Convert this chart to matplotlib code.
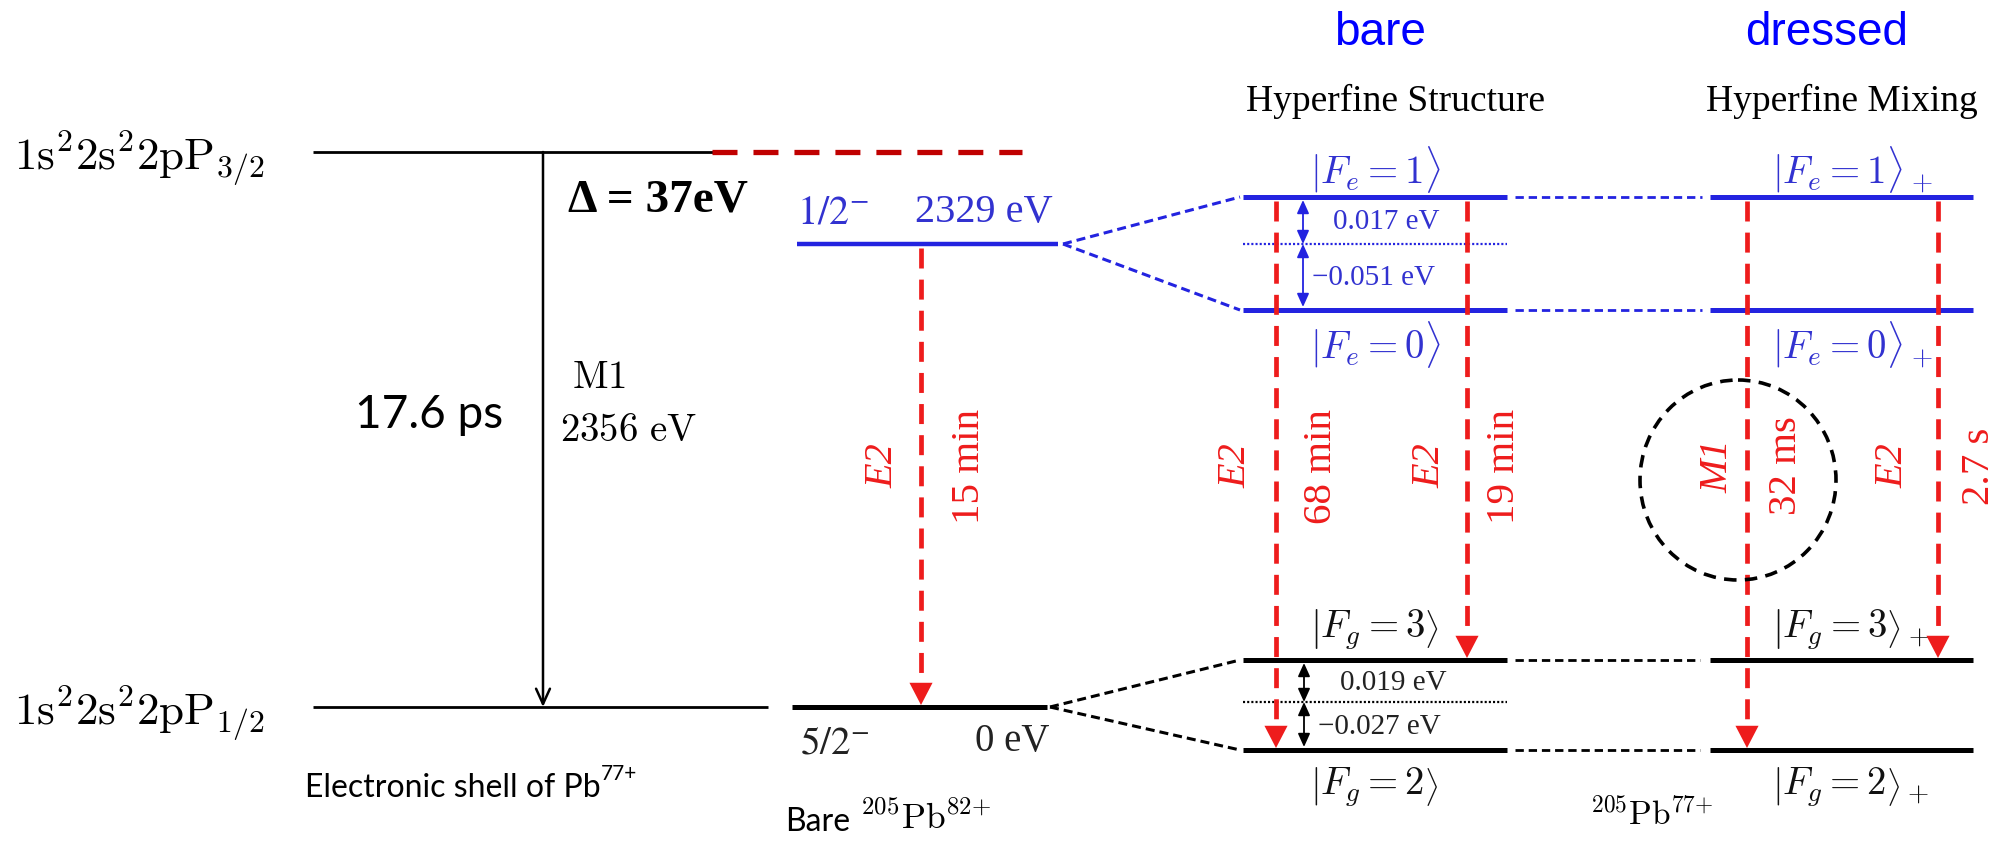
import numpy as np
import matplotlib.pyplot as plt
from matplotlib.patches import Ellipse

plt.rcParams['lines.scale_dashes'] = False

W, H = 1996, 841   # canvas in pixels, data units = pixels

# ---- electronic shell of Pb77+ ----
shell_y = [152, 707]                 # 2p3/2 , 2p1/2
shell_x0 = 313
shell_x1 = [720, 768]
shell_labels = [r'$\mathrm{1s^22s^22pP_{3/2}}$', r'$\mathrm{1s^22s^22pP_{1/2}}$']
shell_lifetime = '17.6 ps'
shell_trans = ['M1', '2356 eV']
delta_label = 'Δ = 37eV'

# ---- bare nucleus 205Pb82+ ----
nuc_y = [244, 707]                   # 1/2- isomer, 5/2- ground
nuc_x = [(797, 1058), (792, 1047)]
nuc_spin = [r'$1/2^{-}$', r'$5/2^{-}$']
nuc_energy = ['2329 eV', '0 eV']

# ---- hyperfine levels ----
hfs_e = [197, 310]                   # F_e = 1, F_e = 0
hfs_g = [660, 750]                   # F_g = 3, F_g = 2
hfs_e_mid, hfs_g_mid = 244, 702
bare_x = (1243, 1507)
mix_x = (1710, 1973)
bare_e_lab = [r'$|F_e = 1\rangle$', r'$|F_e = 0\rangle$']
bare_g_lab = [r'$\left|F_g = 3\right\rangle$', r'$\left|F_g = 2\right\rangle$']
mix_e_lab = [r'$|F_e = 1\rangle_+$', r'$|F_e = 0\rangle_+$']
mix_g_lab = [r'$\left|F_g = 3\right\rangle_+$', r'$\left|F_g = 2\right\rangle_+$']
split_e = ['0.017 eV', '\u22120.051 eV']
split_g = ['0.019 eV', '\u22120.027 eV']

# ---- decays ----
tr_x = [921, 1276, 1467, 1747, 1938]
tr_from = [244, 197, 197, 197, 197]
tr_to = [707, 750, 660, 750, 660]
tr_type = ['E2', 'E2', 'E2', 'M1', 'E2']
tr_time = ['15 min', '68 min', '19 min', '32 ms', '2.7 s']
type_dx = [-38, -40, -37, -29, -45]
time_dx = [49, 46, 38, 40, 42]

red = '#ee1c1c'
dred = '#c00000'
blue = '#2323e0'
tblue = '#3232d0'

fig = plt.figure(figsize=(W / 100, H / 100), dpi=100)
ax = fig.add_axes([0, 0, 1, 1])
ax.set_xlim(0, W)
ax.set_ylim(H, 0)
ax.axis('off')

def hline(y, x0, x1, **kw):
    ax.plot([x0, x1], [y, y], solid_capstyle='butt', dash_capstyle='butt', **kw)

def seg(p, q, **kw):
    ax.plot([p[0], q[0]], [p[1], q[1]], dash_capstyle='butt', **kw)

# electronic shell
for y, x1, lab in zip(shell_y, shell_x1, shell_labels):
    hline(y, shell_x0, x1, color='black', lw=2.0)
    ax.text(14, y + 6, lab, fontsize=32.5, math_fontfamily='cm', va='center', ha='left')
hline(shell_y[0], 712, 1022, color=dred, lw=3.8, dashes=(18, 11.5))
ax.annotate('', xy=(543, shell_y[1]), xytext=(543, shell_y[0]),
            arrowprops=dict(arrowstyle='->,head_length=1.1,head_width=0.5', mutation_scale=10,
                            color='black', lw=1.8, shrinkA=0, shrinkB=0))
ax.text(355, 415, shell_lifetime, fontsize=33, family='Lato', va='center', ha='left')
ax.text(572, 377, r'$\mathrm{' + shell_trans[0] + '}$', fontsize=28, math_fontfamily='cm', va='center', ha='left')
ax.text(560, 430, r'$\mathrm{2356\ eV}$', fontsize=28, math_fontfamily='cm', va='center', ha='left')
ax.text(568, 200, delta_label, fontsize=34, family='Liberation Serif', weight='bold', va='center', ha='left')
t_shell = ax.text(305, 788, 'Electronic shell of Pb', fontsize=23, family='Lato', va='center', ha='left')
ax.annotate('77+', xy=(1.0, 0.95), xycoords=t_shell, xytext=(0.5, 0), textcoords='offset points',
            fontsize=15, family='Lato', va='center', ha='left')

# bare nucleus
nuc_col = [blue, 'black']
nuc_lw = [3.2, 3.6]
for y, (x0, x1), c, lw in zip(nuc_y, nuc_x, nuc_col, nuc_lw):
    hline(y, x0, x1, color=c, lw=lw)
ax.text(797, 212, nuc_spin[0], fontsize=29, math_fontfamily='stix', color=tblue, va='center', ha='left')
ax.text(915, 212, nuc_energy[0], fontsize=29, family='Liberation Serif', color=tblue, va='center', ha='left')
ax.text(800, 742, nuc_spin[1], fontsize=28, math_fontfamily='stix', color='#222222', va='center', ha='left')
ax.text(975, 742, nuc_energy[1], fontsize=28, family='Liberation Serif', color='#222222', va='center', ha='left')
ax.text(785, 822, 'Bare', fontsize=23, family='Lato', va='center', ha='left')
ax.text(860, 818, r'$^{205}\mathrm{Pb}^{82{+}}$', fontsize=25.5, math_fontfamily='cm', va='center', ha='left')

# splitting fans
for ye in hfs_e:
    seg((1063, nuc_y[0]), (bare_x[0] - 3, ye), color=blue, lw=2.2, dashes=(6.5, 3.6))
for yg in hfs_g:
    seg((1050, nuc_y[1]), (bare_x[0] - 3, yg), color='black', lw=2.2, dashes=(6.5, 3.6))

# hyperfine levels, bare and dressed
for x0, x1 in [bare_x, mix_x]:
    for y in hfs_e:
        hline(y, x0, x1, color=blue, lw=3.6, zorder=2)
    for y in hfs_g:
        hline(y, x0, x1, color='black', lw=3.6, zorder=2)
for y in hfs_e:
    hline(y, bare_x[1] + 8, mix_x[0] - 8, color=blue, lw=2.0, dashes=(6, 3.5))
for y in hfs_g:
    hline(y, bare_x[1] + 8, mix_x[0] - 10, color='black', lw=2.0, dashes=(6, 3.5))
hline(hfs_e_mid, bare_x[0], bare_x[1], color=blue, lw=1.6, dashes=(1.5, 1.5))
hline(hfs_g_mid, bare_x[0], bare_x[1], color='black', lw=1.6, dashes=(1.5, 1.5))

# splitting arrows
def dbl(x, y0, y1, c):
    ax.annotate('', xy=(x, y1), xytext=(x, y0),
                arrowprops=dict(arrowstyle='<|-|>,head_length=1.0,head_width=0.45', mutation_scale=8,
                                color=c, lw=1.3, shrinkA=0, shrinkB=0))
dbl(1303, hfs_e[0] + 3, hfs_e_mid, blue)
dbl(1303, hfs_e_mid, hfs_e[1] - 3, blue)
dbl(1304, hfs_g[0] + 3, hfs_g_mid, 'black')
dbl(1304, hfs_g_mid, hfs_g[1] - 3, 'black')
ax.text(1333, 222, split_e[0], fontsize=21, family='Liberation Serif', color=tblue, va='center', ha='left')
ax.text(1312, 278, split_e[1], fontsize=21, family='Liberation Serif', color=tblue, va='center', ha='left')
ax.text(1340, 683, split_g[0], fontsize=21, family='Liberation Serif', color='#222222', va='center', ha='left')
ax.text(1318, 727, split_g[1], fontsize=21, family='Liberation Serif', color='#222222', va='center', ha='left')

# state labels
for lab, y in zip(bare_e_lab, [170, 345]):
    ax.text(1310, y, lab, fontsize=28, math_fontfamily='cm', color=tblue, va='center', ha='left')
for lab, y in zip(mix_e_lab, [170, 345]):
    ax.text(1772, y, lab, fontsize=28, math_fontfamily='cm', color=tblue, va='center', ha='left')
for lab, y in zip(bare_g_lab, [630, 787]):
    ax.text(1310, y, lab, fontsize=28, math_fontfamily='cm', color='#111111', va='center', ha='left')
for lab, y in zip(mix_g_lab, [630, 787]):
    ax.text(1772, y, lab, fontsize=28, math_fontfamily='cm', color='#111111', va='center', ha='left')
ax.text(1590, 815, r'$^{205}\mathrm{Pb}^{77{+}}$', fontsize=24, math_fontfamily='cm', va='center', ha='left')

# headers
ax.text(1396, 101, 'Hyperfine Structure', fontsize=27, family='Liberation Serif', va='center', ha='center')
ax.text(1842, 101, 'Hyperfine Mixing', fontsize=27, family='Liberation Serif', va='center', ha='center')
ax.text(1380, 45, 'bare', fontsize=33, family='Liberation Sans', color='#0000ff', va='baseline', ha='center')
ax.text(1827, 45, 'dressed', fontsize=33, family='Liberation Sans', color='#0000ff', va='baseline', ha='center')

# decay arrows
for x, y0, y1, kind, tau, dk, dt in zip(tr_x, tr_from, tr_to, tr_type, tr_time, type_dx, time_dx):
    ax.plot([x, x], [y0 + 4, y1 - 18], color=red, lw=3.4, dashes=(14.4, 8), zorder=3)
    ax.annotate('', xy=(x, y1 - 2), xytext=(x, y1 - 30),
                arrowprops=dict(arrowstyle='-|>,head_length=1.0,head_width=0.52', mutation_scale=16,
                                color=red, lw=0, shrinkA=0, shrinkB=0), zorder=3)
    ax.text(x + dk, 466, kind, rotation=90, fontsize=29, family='Liberation Serif', style='italic',
            color=red, va='center', ha='center')
    ax.text(x + dt, 466, tau, rotation=90, fontsize=29.5, family='Liberation Serif',
            color=red, va='center', ha='center')

ax.add_patch(Ellipse((1738, 480), 196, 200, fill=False, ec='black', lw=2.6,
                     ls=(0, (9, 6)), zorder=4))

fig.savefig('out.png', dpi=100)
